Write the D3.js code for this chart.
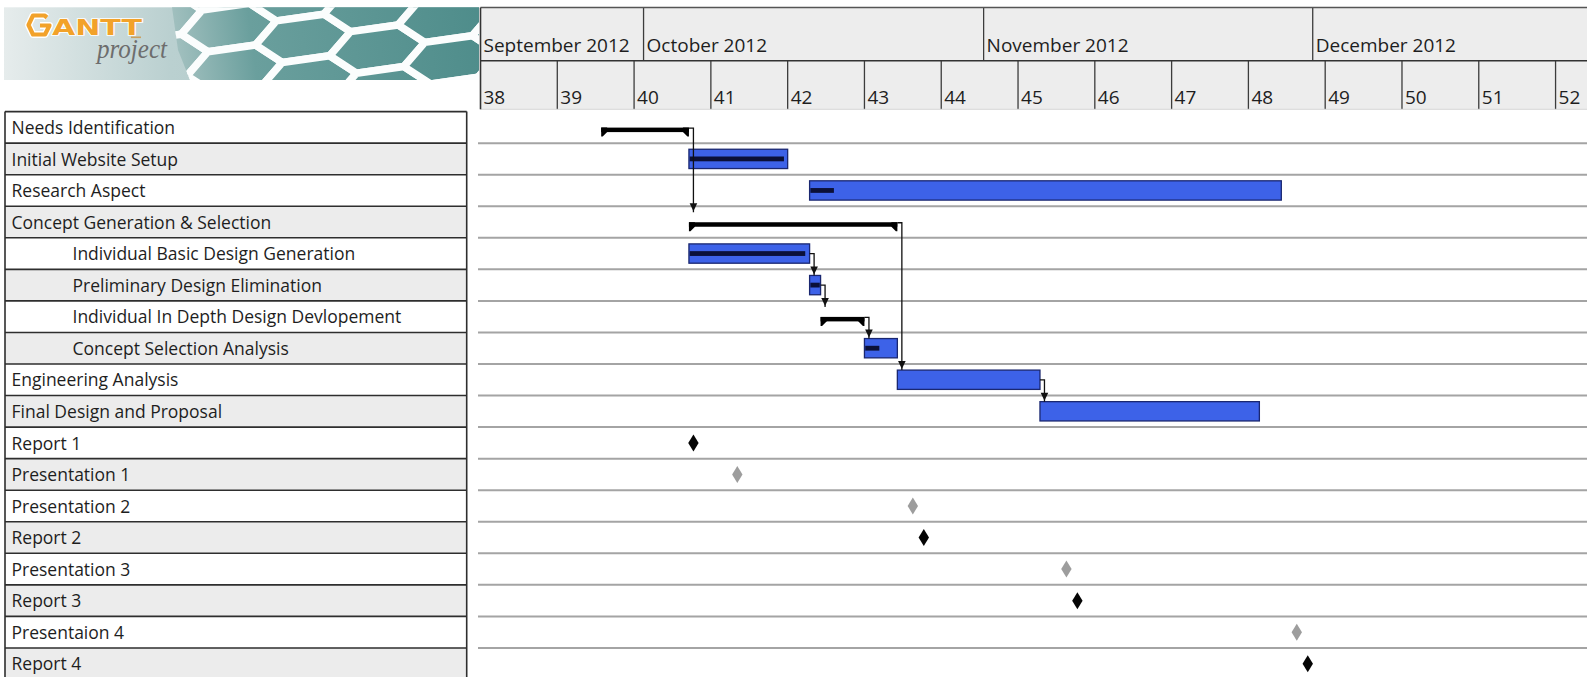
<!DOCTYPE html>
<html>
<head>
<meta charset="utf-8">
<script src="https://cdn.jsdelivr.net/npm/d3@7"></script>
<style>
  html, body { margin: 0; padding: 0; background: #ffffff; }
  svg { display: block; }
</style>
</head>
<body>
<svg id="chart" width="1587" height="677"></svg>
<script>
// ---- Project data ----------------------------------------------------------
const taskNames = [
  "Needs Identification",
  "Initial Website Setup",
  "Research Aspect",
  "Concept Generation & Selection",
  "Individual Basic Design Generation",
  "Preliminary Design Elimination",
  "Individual In Depth Design Devlopement",
  "Concept Selection Analysis",
  "Engineering Analysis",
  "Final Design and Proposal",
  "Report 1",
  "Presentation 1",
  "Presentation 2",
  "Report 2",
  "Presentation 3",
  "Report 3",
  "Presentaion 4",
  "Report 4"
];
const taskLevel = [0, 0, 0, 0, 1, 1, 1, 1, 0, 0, 0, 0, 0, 0, 0, 0, 0, 0];
const taskKind = [
  "summary", "task", "task", "summary", "task", "task", "summary", "task", "task", "task",
  "milestone", "milestone", "milestone", "milestone", "milestone", "milestone", "milestone", "milestone"
];
const milestoneGroup = [
  "", "", "", "", "", "", "", "", "", "",
  "report", "presentation", "presentation", "report", "presentation", "report", "presentation", "report"
];
const taskStart = [
  "2012-09-27", "2012-10-05", "2012-10-16", "2012-10-05", "2012-10-05", "2012-10-16",
  "2012-10-17", "2012-10-21", "2012-10-24", "2012-11-06",
  "2012-10-05", "2012-10-09", "2012-10-25", "2012-10-26", "2012-11-08", "2012-11-09",
  "2012-11-29", "2012-11-30"
];
const taskEnd = [
  "2012-10-05", "2012-10-14", "2012-11-28", "2012-10-24", "2012-10-16", "2012-10-17",
  "2012-10-21", "2012-10-24", "2012-11-06", "2012-11-26",
  "2012-10-05", "2012-10-09", "2012-10-25", "2012-10-26", "2012-11-08", "2012-11-09",
  "2012-11-29", "2012-11-30"
];
// percent complete (ordinary tasks only)
const taskProgress = [0, 97, 5, 0, 97, 100, 0, 45, 0, 0, 0, 0, 0, 0, 0, 0, 0, 0];
// finish-to-start links: [predecessor, successor]
const dependencies = [[0, 3], [3, 8], [4, 5], [5, 6], [6, 7], [8, 9]];

// ---- Timeline header labels ------------------------------------------------
const monthLabels = ["September 2012", "October 2012", "November 2012", "December 2012"];
const monthStarts = ["2012-09-16", "2012-10-01", "2012-11-01", "2012-12-01"];
const weekLabels = ["38", "39", "40", "41", "42", "43", "44", "45", "46", "47", "48", "49", "50", "51", "52"];
const weekStarts = ["2012-09-16", "2012-09-23", "2012-09-30", "2012-10-07", "2012-10-14", "2012-10-21",
  "2012-10-28", "2012-11-04", "2012-11-11", "2012-11-18", "2012-11-25", "2012-12-02",
  "2012-12-09", "2012-12-16", "2012-12-23"];

// ---- Layout ----------------------------------------------------------------
const W = 1587, H = 677;
const parse = d3.utcParse("%Y-%m-%d");
const chartLeft = 480.5;
const dayWidth = 10.97;
const timeStart = parse("2012-09-16");
const timeEnd = d3.utcDay.offset(timeStart, 102);

const x = d3.scaleUtc()
  .domain([timeStart, timeEnd])
  .range([chartLeft, chartLeft + 102 * dayWidth]);

const rowTop = 111.6, rowH = 31.55;
const y = d3.scaleBand()
  .domain(d3.range(taskNames.length))
  .range([rowTop, rowTop + taskNames.length * rowH])
  .padding(0);
const bw = y.bandwidth();

const headTop = 7.5, headMid = 60.7, headBottom = 109.3;
const tableLeft = 5, tableRight = 466.7;
const uiFont = "'Open Sans', 'Noto Sans', 'DejaVu Sans', sans-serif";

const svg = d3.select("#chart");
const defs = svg.append("defs");

// ---- Logo banner -----------------------------------------------------------
const logo = svg.append("g").attr("class", "logo");
const bg = defs.append("linearGradient").attr("id", "logoBg")
  .attr("gradientUnits", "userSpaceOnUse").attr("x1", 4).attr("x2", 479).attr("y1", 0).attr("y2", 0);
bg.append("stop").attr("offset", 0).attr("stop-color", "#e6ecec");
bg.append("stop").attr("offset", 0.35).attr("stop-color", "#bad0d0");
bg.append("stop").attr("offset", 1).attr("stop-color", "#a7c2c1");

const hexFill = defs.append("linearGradient").attr("id", "hexFill")
  .attr("gradientUnits", "userSpaceOnUse").attr("x1", 165).attr("x2", 479).attr("y1", 0).attr("y2", 0);
hexFill.append("stop").attr("offset", 0).attr("stop-color", "#aac5c4");
hexFill.append("stop").attr("offset", 0.28).attr("stop-color", "#6a9f9d");
hexFill.append("stop").attr("offset", 1).attr("stop-color", "#4f8d8b");

defs.append("clipPath").attr("id", "hexClip")
  .append("polygon").attr("points", "172,7.3 479,7.3 479,80 190,80 178,50");

logo.append("rect").attr("x", 4).attr("y", 7.3).attr("width", 475).attr("height", 72.7)
  .attr("fill", "url(#logoBg)");

const hexW = 96, hexH = 42;
const hexCells = [];
for (let c = 0; c < 8; c++) {
  for (let r = -1; r < 4; r++) {
    hexCells.push([160 + c * hexW * 0.75, -6 + r * hexH + (c % 2 ? hexH / 2 : 0)]);
  }
}
const hexPath = ([cx, cy]) => {
  const pts = [[cx - hexW / 2, cy], [cx - hexW / 4, cy - hexH / 2], [cx + hexW / 4, cy - hexH / 2],
    [cx + hexW / 2, cy], [cx + hexW / 4, cy + hexH / 2], [cx - hexW / 4, cy + hexH / 2]];
  return "M" + pts.map(p => p.join(",")).join("L") + "Z";
};
logo.append("g").attr("clip-path", "url(#hexClip)")
  .append("g").attr("transform", "rotate(-8,320,44)")
  .selectAll("path").data(hexCells).join("path")
  .attr("d", hexPath)
  .attr("fill", "url(#hexFill)")
  .attr("stroke", "#fbfdfd").attr("stroke-width", 7.5).attr("stroke-linejoin", "round");

// hexagonal G
const gPath = "M47,17.5 L44.5,15.5 L33,15.5 L28.5,25 L33,34.5 L45,34.5 L49.5,25.5 L40,25.5";
logo.append("path").attr("d", gPath)
  .attr("fill", "none").attr("stroke", "#ffffff").attr("stroke-width", 7).attr("stroke-linejoin", "round");
logo.append("path").attr("d", gPath)
  .attr("fill", "none").attr("stroke", "#f2a22a").attr("stroke-width", 4.2).attr("stroke-linejoin", "round");
logo.append("text")
  .attr("x", 52).attr("y", 35)
  .attr("textLength", 90).attr("lengthAdjust", "spacingAndGlyphs")
  .attr("font-family", "'DejaVu Sans', sans-serif").attr("font-weight", "bold").attr("font-size", 21)
  .attr("fill", "#f2a22a").attr("stroke", "#ffffff").attr("stroke-width", 1.6)
  .attr("paint-order", "stroke")
  .text("ANTT");
logo.append("rect").attr("x", 131).attr("y", 36.5).attr("width", 10).attr("height", 1.6).attr("fill", "#c9a060");
logo.append("text")
  .attr("x", 97).attr("y", 58)
  .attr("textLength", 70).attr("lengthAdjust", "spacingAndGlyphs")
  .attr("font-family", "'Liberation Serif', serif").attr("font-style", "italic").attr("font-size", 27)
  .attr("fill", "#6d6d6d")
  .text("project");

// ---- Timeline header -------------------------------------------------------
const header = svg.append("g").attr("class", "timeline-header");
header.append("rect")
  .attr("x", chartLeft).attr("y", headTop)
  .attr("width", W - chartLeft).attr("height", headBottom - headTop)
  .attr("fill", "#ededed");

const months = monthLabels.map((label, i) => ({
  label,
  start: i === 0 ? chartLeft : x(parse(monthStarts[i])) - 1.5
}));
header.selectAll("line.month").data(months.slice(1)).join("line")
  .attr("class", "month")
  .attr("x1", d => d.start).attr("x2", d => d.start)
  .attr("y1", headTop).attr("y2", headMid)
  .attr("stroke", "#3c3c3c").attr("stroke-width", 1.3);
header.selectAll("text.month").data(months).join("text")
  .attr("class", "month")
  .attr("x", d => d.start + 3).attr("y", 51.5)
  .attr("font-family", uiFont).attr("font-size", 19).attr("fill", "#1e1e1e")
  .text(d => d.label);

const weeks = weekLabels.map((label, i) => ({ label, start: x(parse(weekStarts[i])) }));
header.selectAll("line.week").data(weeks.slice(1)).join("line")
  .attr("class", "week")
  .attr("x1", d => d.start).attr("x2", d => d.start)
  .attr("y1", headMid).attr("y2", headBottom)
  .attr("stroke", "#3c3c3c").attr("stroke-width", 1.3);
header.selectAll("text.week").data(weeks).join("text")
  .attr("class", "week")
  .attr("x", d => d.start + 3).attr("y", 103.5)
  .attr("font-family", uiFont).attr("font-size", 19).attr("fill", "#1e1e1e")
  .text(d => d.label);

header.append("line").attr("x1", chartLeft).attr("x2", W).attr("y1", headTop).attr("y2", headTop)
  .attr("stroke", "#555").attr("stroke-width", 1.3);
header.append("line").attr("x1", chartLeft).attr("x2", W).attr("y1", headMid).attr("y2", headMid)
  .attr("stroke", "#333").attr("stroke-width", 1.6);
header.append("line").attr("x1", chartLeft).attr("x2", W).attr("y1", headBottom).attr("y2", headBottom)
  .attr("stroke", "#d8d8d8").attr("stroke-width", 1);
header.append("line").attr("x1", chartLeft).attr("x2", chartLeft).attr("y1", headTop).attr("y2", headBottom)
  .attr("stroke", "#333").attr("stroke-width", 1.6);

// ---- Task table ------------------------------------------------------------
const table = svg.append("g").attr("class", "task-table");
const rows = d3.range(taskNames.length);
table.selectAll("rect").data(rows).join("rect")
  .attr("x", tableLeft).attr("y", i => y(i))
  .attr("width", tableRight - tableLeft).attr("height", bw)
  .attr("fill", i => (i % 2 ? "#ececec" : "#ffffff"));
table.selectAll("line.rowline").data(d3.range(taskNames.length + 1)).join("line")
  .attr("class", "rowline")
  .attr("x1", tableLeft).attr("x2", tableRight)
  .attr("y1", i => rowTop + i * rowH).attr("y2", i => rowTop + i * rowH)
  .attr("stroke", "#2e2e2e").attr("stroke-width", 1.6);
[tableLeft, tableRight].forEach(xx => {
  table.append("line").attr("x1", xx).attr("x2", xx)
    .attr("y1", rowTop).attr("y2", H)
    .attr("stroke", "#2e2e2e").attr("stroke-width", 1.6);
});
table.selectAll("text").data(rows).join("text")
  .attr("x", i => (taskLevel[i] ? 72.5 : 11.5))
  .attr("y", i => y(i) + 22.4)
  .attr("font-family", uiFont).attr("font-size", 17.5).attr("fill", "#1e1e1e")
  .text(i => taskNames[i]);

// ---- Gantt area ------------------------------------------------------------
const gantt = svg.append("g").attr("class", "gantt");
gantt.selectAll("line.grid").data(d3.range(taskNames.length - 1)).join("line")
  .attr("class", "grid")
  .attr("x1", 478).attr("x2", W)
  .attr("y1", i => y(i) + bw).attr("y2", i => y(i) + bw)
  .attr("stroke", "#a4a4a4").attr("stroke-width", 2);

const barTop = 6.1, barH = 19.3, sumTop = 16, sumH = 4.5;
const tasks = rows.map(i => ({
  i,
  kind: taskKind[i],
  start: parse(taskStart[i]),
  end: parse(taskEnd[i]),
  progress: taskProgress[i],
  group: milestoneGroup[i]
}));

// ordinary tasks
const plain = tasks.filter(t => t.kind === "task");
gantt.selectAll("rect.bar").data(plain).join("rect")
  .attr("class", "bar")
  .attr("x", t => x(t.start)).attr("y", t => y(t.i) + barTop)
  .attr("width", t => x(t.end) - x(t.start)).attr("height", barH)
  .attr("fill", "#3d62e8").attr("stroke", "#1a2770").attr("stroke-width", 1.3);
gantt.selectAll("rect.progress").data(plain.filter(t => t.progress > 0)).join("rect")
  .attr("class", "progress")
  .attr("x", t => x(t.start) + 0.8)
  .attr("y", t => y(t.i) + barTop + barH / 2 - 2.4)
  .attr("width", t => (x(t.end) - x(t.start) - 1.6) * t.progress / 100)
  .attr("height", 4.8)
  .attr("fill", "#0b1038");

// summary tasks
const summaries = tasks.filter(t => t.kind === "summary");
const sumG = gantt.selectAll("g.summary").data(summaries).join("g").attr("class", "summary");
sumG.append("rect")
  .attr("x", t => x(t.start)).attr("y", t => y(t.i) + sumTop)
  .attr("width", t => x(t.end) - x(t.start)).attr("height", sumH)
  .attr("fill", "#000");
sumG.append("polygon").attr("points", t => {
  const x0 = x(t.start), top = y(t.i) + sumTop;
  return [[x0, top], [x0 + 6, top], [x0 + 6, top + sumH], [x0 + 1.5, top + 9], [x0, top + 9]].join(" ");
}).attr("fill", "#000");
sumG.append("polygon").attr("points", t => {
  const x1 = x(t.end), top = y(t.i) + sumTop;
  return [[x1, top], [x1 - 6, top], [x1 - 6, top + sumH], [x1 - 1.5, top + 9], [x1, top + 9]].join(" ");
}).attr("fill", "#000");

// dependency connectors
const depG = gantt.selectAll("g.dep").data(dependencies).join("g").attr("class", "dep");
const depGeom = ([a, b]) => {
  const src = tasks[a];
  const sx = x(src.end);
  const sy = src.kind === "summary" ? y(a) + sumTop + 0.5 : y(a) + bw / 2;
  const hx = sx + 4.5;
  const ty = y(b) + barTop;
  return { sx, sy, hx, ty };
};
depG.append("path")
  .attr("d", d => { const g = depGeom(d); return `M${g.sx},${g.sy}H${g.hx}V${g.ty}`; })
  .attr("fill", "none").attr("stroke", "#111").attr("stroke-width", 1.3);
depG.append("polygon")
  .attr("points", d => { const g = depGeom(d);
    return [[g.hx - 3.8, g.ty - 9], [g.hx + 3.8, g.ty - 9], [g.hx, g.ty - 1]].join(" "); })
  .attr("fill", "#111");

// milestones
const miles = tasks.filter(t => t.kind === "milestone");
gantt.selectAll("path.milestone").data(miles).join("path")
  .attr("class", "milestone")
  .attr("d", t => {
    const cx = x(t.start) + 4.5, cy = y(t.i) + bw / 2;
    return `M${cx},${cy - 8.5}L${cx + 5.2},${cy}L${cx},${cy + 8.5}L${cx - 5.2},${cy}Z`;
  })
  .attr("fill", t => (t.group === "report" ? "#050505" : "#9d9d9d"));
</script>
</body>
</html>
